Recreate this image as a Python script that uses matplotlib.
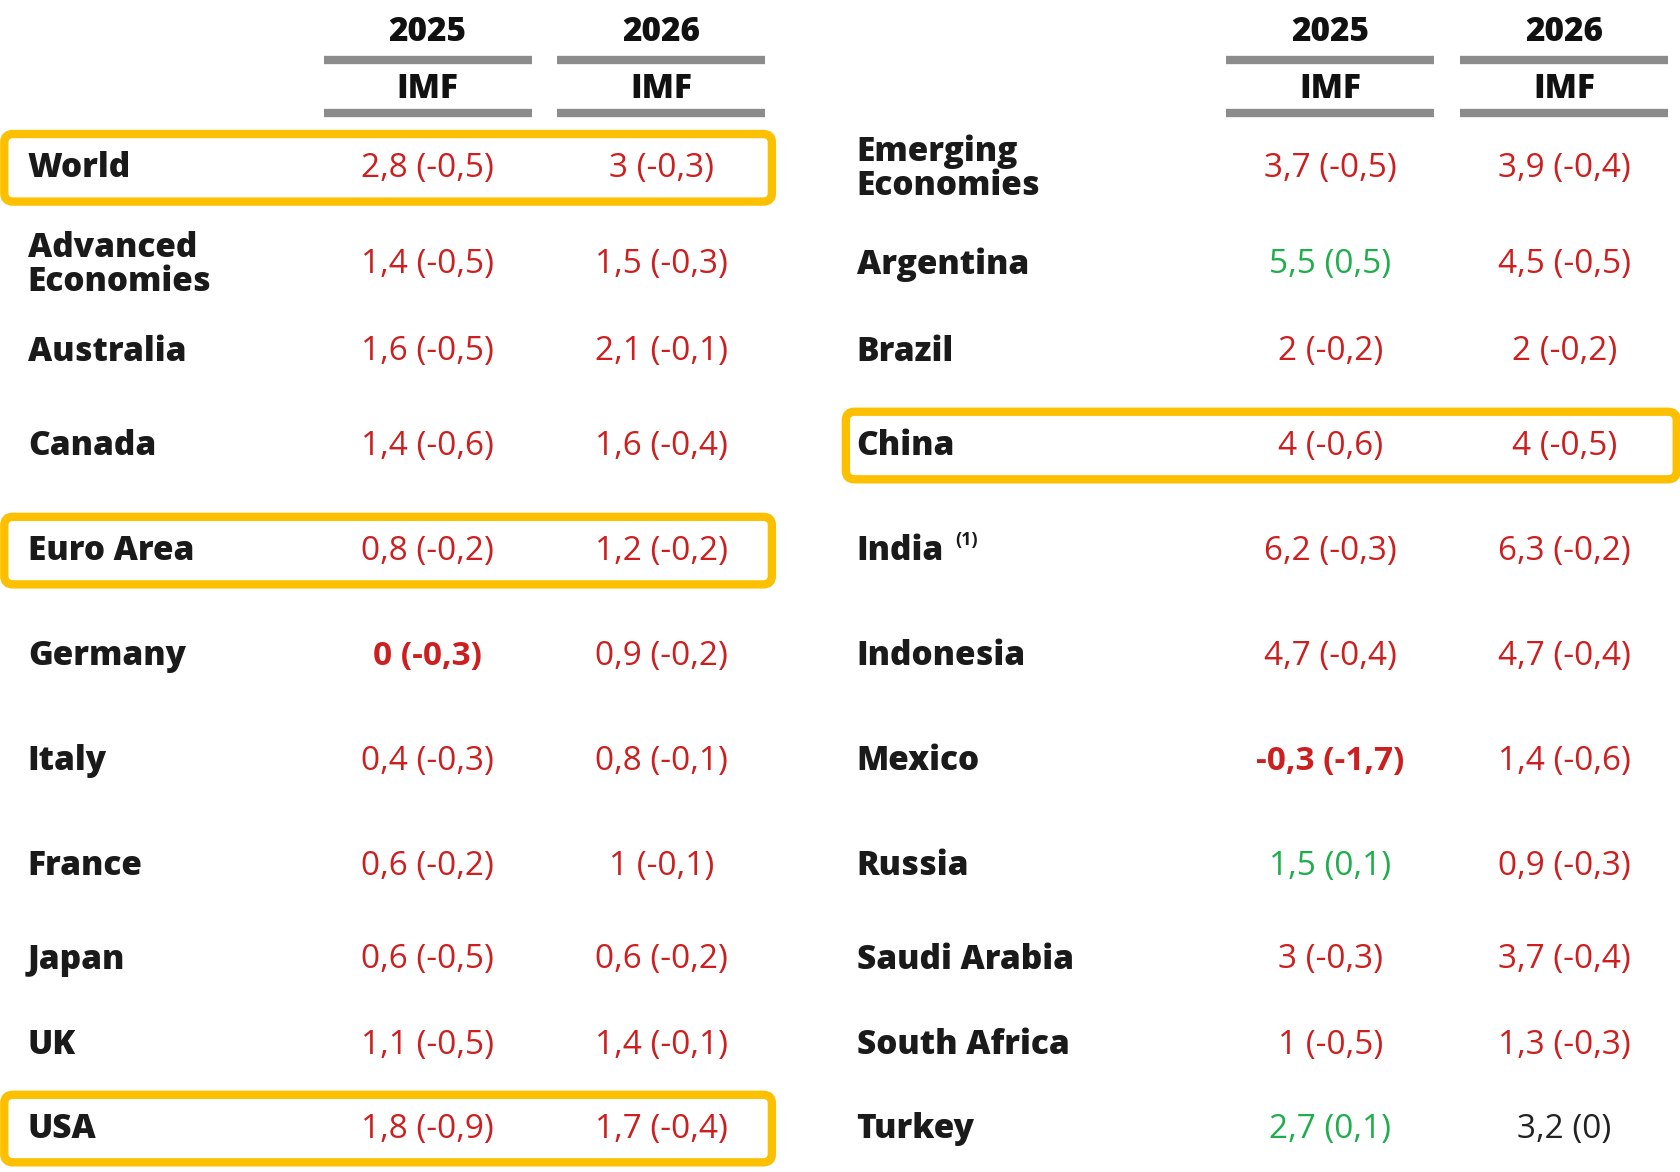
import matplotlib.pyplot as plt
from matplotlib.patches import FancyBboxPatch

RED = "#cc1f1f"
GREEN = "#1fae4b"
BLACK = "#222222"
YELLOW = "#fcc000"
GREY = "#8c8c8c"

left_names = ["World", "Advanced\nEconomies", "Australia", "Canada", "Euro Area", "Germany",
              "Italy", "France", "Japan", "UK", "USA"]
left_2025 = ["2,8 (-0,5)", "1,4 (-0,5)", "1,6 (-0,5)", "1,4 (-0,6)", "0,8 (-0,2)", "0 (-0,3)",
             "0,4 (-0,3)", "0,6 (-0,2)", "0,6 (-0,5)", "1,1 (-0,5)", "1,8 (-0,9)"]
left_2026 = ["3 (-0,3)", "1,5 (-0,3)", "2,1 (-0,1)", "1,6 (-0,4)", "1,2 (-0,2)", "0,9 (-0,2)",
             "0,8 (-0,1)", "1 (-0,1)", "0,6 (-0,2)", "1,4 (-0,1)", "1,7 (-0,4)"]
right_names = ["Emerging\nEconomies", "Argentina", "Brazil", "China", "India", "Indonesia",
               "Mexico", "Russia", "Saudi Arabia", "South Africa", "Turkey"]
right_2025 = ["3,7 (-0,5)", "5,5 (0,5)", "2 (-0,2)", "4 (-0,6)", "6,2 (-0,3)", "4,7 (-0,4)",
              "-0,3 (-1,7)", "1,5 (0,1)", "3 (-0,3)", "1 (-0,5)", "2,7 (0,1)"]
right_2026 = ["3,9 (-0,4)", "4,5 (-0,5)", "2 (-0,2)", "4 (-0,5)", "6,3 (-0,2)", "4,7 (-0,4)",
              "1,4 (-0,6)", "0,9 (-0,3)", "3,7 (-0,4)", "1,3 (-0,3)", "3,2 (0)"]

row_y = [157, 247, 328, 416, 514, 612, 710, 808, 895, 975, 1053]
bold_cells = {("L", 0, 5), ("R", 0, 6)}
highlight_left = ["World", "Euro Area", "USA"]
highlight_right = ["China"]

W, H = 1568, 1093
fig = plt.figure(figsize=(16.81, 11.72), dpi=100)
ax = fig.add_axes([0, 0, 1, 1])
ax.set_xlim(0, W)
ax.set_ylim(H, 0)
ax.axis("off")

FONT = "Open Sans"

def color_of(v):
    if v.startswith("-") or "(-" in v:
        return RED
    if "(0)" in v:
        return BLACK
    return GREEN

def draw_side(side, label_x, cols, names, vals_list, highlights, box_x):
    for cx in cols:
        ax.text(cx, 30, "2025" if cx == cols[0] else "2026", ha="center", va="center",
                fontsize=24, fontweight=800, family=FONT, color="#111111")
        ax.text(cx, 83, "IMF", ha="center", va="center",
                fontsize=24, fontweight=800, family=FONT, color="#111111")
        for ly in (56, 105):
            ax.plot([cx - 97, cx + 97], [ly, ly], color=GREY, lw=6, solid_capstyle="butt")
    for i, (name, y) in enumerate(zip(names, row_y)):
        ax.text(label_x, y, name, ha="left", va="center", fontsize=24, fontweight=800,
                family=FONT, color="#1a1a1a", linespacing=1.0)
        if name.startswith("India"):
            ax.text(label_x + 92, y - 10, "(1)", fontsize=13, fontweight="bold",
                    family=FONT, color="#1a1a1a", ha="left", va="center")
        for c, (cx, vals) in enumerate(zip(cols, vals_list)):
            v = vals[i]
            wt = "bold" if (side, c, i) in bold_cells else "normal"
            ax.text(cx, y, v, ha="center", va="center", fontsize=24, fontweight=wt,
                    family=FONT, color=color_of(v))
        if name in highlights:
            ax.add_patch(FancyBboxPatch((box_x[0], y - 32), box_x[1] - box_x[0], 63,
                                        boxstyle="round,pad=0,rounding_size=8",
                                        fill=False, ec=YELLOW, lw=6))

draw_side("L", 26, [399, 617], left_names, [left_2025, left_2026], highlight_left, (4, 720))
draw_side("R", 799, [1241, 1459], right_names, [right_2025, right_2026], highlight_right, (789, 1564))

fig.savefig("out.png", dpi=100, facecolor="white")
